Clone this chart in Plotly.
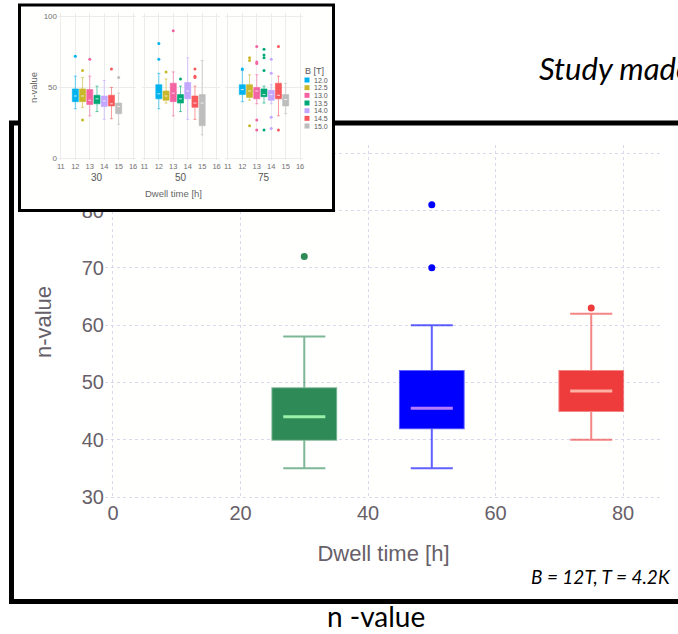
import plotly.graph_objects as go

W, H = 678, 634

# ---- Main chart: n-value vs dwell time at B = 12 T ----
dwell_time = [30, 50, 75]
q1_12T = [40, 42, 45]
median_12T = [44, 45.5, 48.5]
q3_12T = [49, 52, 52]
lower_12T = [35, 35, 40]
upper_12T = [58, 60, 62]
outliers_12T = [[72], [81, 70], [63]]
main_fill = ["#2e8b57", "#0000ff", "#ee3b3b"]
main_median = ["#9af0a8", "#b57cff", "#ffb0a3"]
main_ticks_x = [0, 20, 40, 60, 80]
main_ticks_y = [30, 40, 50, 60, 70, 80, 90]
main_ticktext_y = ["30", "40", "50", "60", "70", "80", ""]

# ---- Overview of all fields (rows = field, columns = dwell time) ----
panel_dwell = [30, 50, 75]
field_labels = ["12.0", "12.5", "13.0", "13.5", "14.0", "14.5", "15.0"]
field_values = [12.0, 12.5, 13.0, 13.5, 14.0, 14.5, 15.0]
field_colors = ["#00b2ee", "#c9b82c", "#f564a2", "#00a878", "#c2a6ff", "#f8585c", "#bdbdbd"]
all_q1 = [[40, 42, 45], [40, 41, 43], [38, 40, 42], [38.5, 39, 43.5],
          [36.5, 42, 41], [37, 36, 42], [31.5, 23, 37]]
all_median = [[44, 45.5, 48.5], [44, 44, 47.5], [41, 46, 47.5], [42, 42, 45],
              [40.5, 47.5, 45], [38.5, 39, 44.5], [36.5, 39, 41.5]]
all_q3 = [[49, 52, 52], [49, 47.5, 52], [48.5, 53, 50], [44.5, 45, 49],
          [44, 53.5, 48], [44.5, 44, 53], [39, 45, 45]]
all_lower = [[35, 35, 40], [36, 39, 41], [30, 30, 38.5], [33, 33, 39],
             [27.5, 27.5, 38.5], [28, 27.5, 30], [24, 16.5, 31.5]]
all_upper = [[58, 60, 62], [57, 56, 59], [58, 61, 59], [51, 51, 51],
             [55, 71, 52], [50, 51, 58], [46, 69, 53]]
all_outliers = [
    [[72], [81, 70], [63]],
    [[62, 27], [61], [71, 69, 23]],
    [[70], [90], [79, 68, 67, 27, 20]],
    [[], [56], [77, 73, 71, 62, 20]],
    [[], [], [70, 60, 29, 21]],
    [[63], [63, 58, 57], [79, 20]],
    [[57], [], []],
]
overview_ticks_x = [11, 12, 13, 14, 15, 16]
overview_ticks_y = [0, 50, 100]


def fx(p):
    return p / W


def fy(p):
    return 1 - p / H


def rgba(hex_color, a):
    h = hex_color.lstrip("#")
    r, g, b = int(h[0:2], 16), int(h[2:4], 16), int(h[4:6], 16)
    return f"rgba({r},{g},{b},{a})"


fig = go.Figure()

# main boxes
MAIN_W = 10
MAIN_CAP = 0.66
for i, t in enumerate(dwell_time):
    fig.add_trace(go.Box(
        x=[t], q1=[q1_12T[i]], median=[median_12T[i]], q3=[q3_12T[i]],
        lowerfence=[lower_12T[i]], upperfence=[upper_12T[i]],
        orientation="v", width=MAIN_W, whiskerwidth=MAIN_CAP,
        fillcolor=main_fill[i], line=dict(color=rgba(main_fill[i], 0.62), width=2),
        boxpoints=False, hoverinfo="skip", xaxis="x", yaxis="y"))
    hw = MAIN_W * MAIN_CAP / 2
    fig.add_trace(go.Scatter(
        x=[t - hw, t + hw], y=[median_12T[i]] * 2, mode="lines",
        line=dict(color=main_median[i], width=3), hoverinfo="skip",
        xaxis="x", yaxis="y"))
    fig.add_trace(go.Scatter(
        x=[t] * len(outliers_12T[i]), y=outliers_12T[i], mode="markers",
        marker=dict(color=main_fill[i], size=7), hoverinfo="skip",
        xaxis="x", yaxis="y"))

# white backdrop subplot for the overview panel
fig.add_trace(go.Scatter(x=[], y=[], xaxis="x2", yaxis="y2", hoverinfo="skip"))

# overview panels, one per dwell time
SMALL_W = 0.42
for p, dw in enumerate(panel_dwell):
    xa = f"x{3 + p}"
    for j, b in enumerate(field_values):
        c = field_colors[j]
        fig.add_trace(go.Box(
            x=[b], q1=[all_q1[j][p]], median=[all_median[j][p]], q3=[all_q3[j][p]],
            lowerfence=[all_lower[j][p]], upperfence=[all_upper[j][p]],
            orientation="v", width=SMALL_W, whiskerwidth=0.5,
            fillcolor=c, line=dict(color=rgba(c, 0.6), width=1),
            boxpoints=False, hoverinfo="skip", xaxis=xa, yaxis="y3"))
        hw = SMALL_W * 0.5 / 2
        fig.add_trace(go.Scatter(
            x=[b - hw, b + hw], y=[all_median[j][p]] * 2, mode="lines",
            line=dict(color="rgba(255,255,255,0.75)", width=1), hoverinfo="skip",
            xaxis=xa, yaxis="y3"))
        pts = all_outliers[j][p]
        if pts:
            fig.add_trace(go.Scatter(
                x=[b] * len(pts), y=pts, mode="markers",
                marker=dict(color=c, size=3), hoverinfo="skip",
                xaxis=xa, yaxis="y3"))

MAIN_FONT = "Liberation Sans, Arial, sans-serif"
SLIDE_FONT = "Lato, Carlito, sans-serif"
grey = "#675f69"
grid = "#d9d9ec"

layout = dict(
    template="none",
    width=W, height=H, autosize=False,
    margin=dict(l=0, r=0, t=0, b=0, pad=0),
    paper_bgcolor="white", plot_bgcolor="#fffffe",
    showlegend=False,
    xaxis=dict(domain=[fx(105), fx(662)], range=[-1.25, 86.1], anchor="y",
               automargin=False,
               tickvals=main_ticks_x, showgrid=True, gridcolor=grid, griddash="dot",
               gridwidth=1, zeroline=False, showline=False, ticks="",
               tickfont=dict(family=MAIN_FONT, size=20, color=grey),
               title=dict(text="Dwell time [h]", standoff=22,
                          font=dict(family=MAIN_FONT, size=22, color=grey))),
    yaxis=dict(domain=[fy(499), fy(145)], range=[29.65, 91.45], anchor="x",
               automargin=False,
               tickvals=main_ticks_y, ticktext=main_ticktext_y,
               showgrid=True, gridcolor=grid, griddash="dot",
               gridwidth=1, zeroline=False, showline=False, ticks="",
               tickfont=dict(family=MAIN_FONT, size=20, color=grey),
               title=dict(text="n-value", standoff=24,
                          font=dict(family=MAIN_FONT, size=22, color=grey))),
    xaxis2=dict(domain=[fx(19.5), fx(333.5)], anchor="y2", range=[0, 1], automargin=False,
                showgrid=False, zeroline=False, showticklabels=False, ticks="", showline=False),
    yaxis2=dict(domain=[fy(210.5), fy(5)], anchor="x2", range=[0, 1], automargin=False,
                showgrid=False, zeroline=False, showticklabels=False, ticks="", showline=False),
    yaxis3=dict(domain=[fy(160), fy(13)], anchor="x3", range=[-1.2, 102.6],
                automargin=False,
                tickvals=overview_ticks_y, showgrid=True, gridcolor="#ececec", gridwidth=0.8,
                zeroline=False, showline=False, ticks="",
                tickfont=dict(family=MAIN_FONT, size=8, color="#707070")),
)
panel_left = [58, 141.5, 225]
PANEL_W = 78
for p in range(3):
    layout[f"xaxis{3 + p}"] = dict(
        domain=[fx(panel_left[p]), fx(panel_left[p] + PANEL_W)], anchor="y3",
        range=[10.8, 16.2], tickvals=overview_ticks_x, showgrid=True, automargin=False,
        gridcolor="#ececec", gridwidth=0.8, zeroline=False, showline=False, ticks="",
        tickfont=dict(family=MAIN_FONT, size=7.5, color="#707070"))

shapes = [
    # slide frame
    dict(type="rect", xref="paper", yref="paper", layer="below",
         x0=fx(11.5), x1=fx(720), y0=fy(601.5), y1=fy(123),
         line=dict(color="black", width=5), fillcolor="rgba(0,0,0,0)"),
    # overview border
    dict(type="rect", xref="paper", yref="paper", layer="above",
         x0=fx(19.5), x1=fx(333.5), y0=fy(210.5), y1=fy(5),
         line=dict(color="black", width=3), fillcolor="rgba(0,0,0,0)"),
]
annotations = []
# overview legend keys
for j, lab in enumerate(field_labels):
    yc = 80 + 7.67 * j
    shapes.append(dict(type="rect", xref="paper", yref="paper", layer="above",
                       x0=fx(304.5), x1=fx(309.5), y0=fy(yc + 2.5), y1=fy(yc - 2.5),
                       line=dict(width=0), fillcolor=field_colors[j]))
    annotations.append(dict(text=lab, x=fx(312), y=fy(yc), xref="paper", yref="paper",
                            xanchor="left", yanchor="middle", showarrow=False,
                            font=dict(family=MAIN_FONT, size=7, color="#555555")))
annotations.append(dict(text="B [T]", x=fx(303), y=fy(71), xref="paper", yref="paper",
                        xanchor="left", yanchor="middle", showarrow=False,
                        font=dict(family=MAIN_FONT, size=9, color="#555555")))
# facet strip labels
for p, dw in enumerate(panel_dwell):
    annotations.append(dict(text=str(dw), x=fx(panel_left[p] + PANEL_W / 2), y=fy(177),
                            xref="paper", yref="paper", xanchor="center", yanchor="middle",
                            showarrow=False,
                            font=dict(family=MAIN_FONT, size=10, color="#555555")))
annotations += [
    dict(text="Dwell time [h]", x=fx(173), y=fy(193), xref="paper", yref="paper",
         showarrow=False, xanchor="center", yanchor="middle",
         font=dict(family=MAIN_FONT, size=9.5, color="#666666")),
    dict(text="n-value", x=fx(33), y=fy(88), xref="paper", yref="paper", textangle=-90,
         showarrow=False, xanchor="center", yanchor="middle",
         font=dict(family=MAIN_FONT, size=9.5, color="#666666")),
    # slide texts
    dict(text="Study made by", x=fx(537), y=fy(68), xref="paper", yref="paper",
         showarrow=False, xanchor="left", yanchor="middle",
         font=dict(family=SLIDE_FONT, size=31, color="black", style="italic")),
    dict(text="B = 12T, T = 4.2K", x=fx(673), y=fy(576), xref="paper", yref="paper",
         showarrow=False, xanchor="right", yanchor="middle",
         font=dict(family=SLIDE_FONT, size=19, color="black", style="italic")),
    dict(text="n -value", x=fx(376), y=fy(616), xref="paper", yref="paper",
         showarrow=False, xanchor="center", yanchor="middle",
         font=dict(family=SLIDE_FONT, size=28, color="black")),
]
layout["shapes"] = shapes
layout["annotations"] = annotations
fig.update_layout(**layout)

fig.write_html("out.html")
